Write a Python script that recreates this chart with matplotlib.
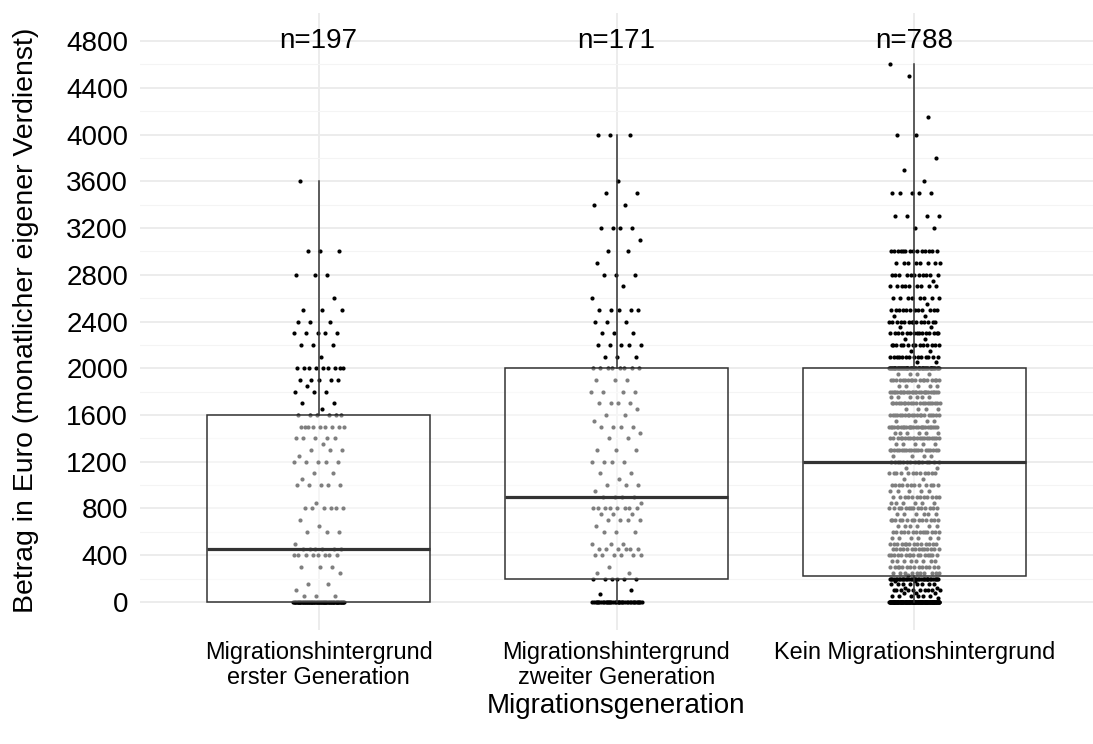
import numpy as np
import matplotlib
matplotlib.use("Agg")
import matplotlib.pyplot as plt

plt.rcParams['font.family'] = ['Liberation Sans', 'DejaVu Sans']

# ---- data (values in Euro, with how many respondents gave each value) ----
categories = ["Migrationshintergrund\nerster Generation",
              "Migrationshintergrund\nzweiter Generation",
              "Kein Migrationshintergrund"]
n_labels = ["n=197", "n=171", "n=788"]

g1_values = [0, 50, 100, 150, 250, 300, 400, 450, 500, 600, 650, 700, 800, 850,
             1000, 1050, 1100, 1200, 1250, 1300, 1350, 1400, 1500, 1600, 1650,
             1700, 1800, 1850, 1900, 2000, 2100, 2200, 2300, 2400, 2500, 2600,
             2800, 3000, 3600]
g1_counts = [78, 3, 1, 2, 1, 3, 8, 6, 1, 3, 1, 1, 6, 1,
             5, 1, 2, 5, 1, 3, 1, 5, 9, 6, 1,
             2, 3, 1, 5, 9, 1, 3, 5, 3, 3, 1,
             3, 3, 1]

g2_values = [0, 70, 100, 200, 250, 300, 400, 450, 500, 600, 650, 700, 750, 800,
             850, 900, 950, 1000, 1050, 1100, 1200, 1300, 1400, 1450, 1500, 1550,
             1600, 1650, 1700, 1800, 1900, 2000, 2100, 2200, 2300, 2400, 2500,
             2600, 2700, 2800, 2900, 3000, 3100, 3200, 3400, 3500, 3600, 4000]
g2_counts = [37, 1, 1, 6, 2, 1, 6, 6, 3, 3, 1, 4, 3, 8,
             1, 4, 1, 3, 1, 2, 4, 3, 2, 1, 4, 1,
             2, 1, 4, 4, 3, 8, 3, 5, 3, 3, 5,
             1, 1, 3, 1, 2, 1, 4, 2, 2, 1, 3]

g3_values = [0, 30, 50, 80, 100, 120, 150, 180, 200, 230, 250, 300, 350, 400,
             450, 500, 550, 600, 650, 700, 750, 800, 850, 900, 950, 1000, 1050,
             1100, 1150, 1200, 1250, 1300, 1350, 1400, 1450, 1500, 1550, 1600,
             1650, 1700, 1750, 1800, 1850, 1900, 1950, 2000, 2050, 2100, 2150,
             2200, 2250, 2300, 2350, 2400, 2450, 2500, 2550, 2600, 2700, 2750,
             2800, 2900, 3000, 3200, 3300, 3500, 3600, 3700, 3800, 4000, 4150,
             4500, 4600]
g3_counts = [130, 1, 6, 3, 10, 2, 8, 2, 35, 1, 10, 14, 8, 16,
             14, 14, 6, 14, 6, 14, 6, 14, 6, 12, 5, 12, 2,
             12, 2, 15, 4, 20, 5, 20, 6, 26, 4, 20,
             4, 20, 6, 26, 5, 18, 4, 50, 2, 14, 2,
             14, 2, 15, 2, 14, 2, 12, 1, 8, 9, 1,
             11, 8, 14, 2, 4, 5, 1, 1, 1, 2, 1,
             1, 1]

group_values = [g1_values, g2_values, g3_values]
group_counts = [g1_counts, g2_counts, g3_counts]

yticks = list(range(0, 4801, 400))

# ---- figure ----
W, H = 1093, 744
fig = plt.figure(figsize=(W / 100, H / 100), dpi=100)
ax = fig.add_axes([140 / W, 114 / H, 953 / W, 617 / H])
ax.set_xlim(0.4, 3.6)
ax.set_ylim(-240, 5040)

for s in ax.spines.values():
    s.set_visible(False)

ax.set_yticks(yticks)
ax.set_yticks(list(range(200, 4801, 400)), minor=True)
ax.set_xticks([1, 2, 3])
ax.set_xticklabels(categories, fontsize=16.9, linespacing=1.12, va='top')
ax.set_yticklabels([str(t) for t in yticks], fontsize=20)
ax.tick_params(axis='both', which='both', length=0)
ax.tick_params(axis='y', pad=8.5)
ax.tick_params(axis='x', pad=8)
ax.grid(True, which='major', color='#EBEBEB', linewidth=1.3, zorder=0)
ax.grid(True, which='minor', axis='y', color='#F4F4F4', linewidth=0.8, zorder=0)
ax.set_axisbelow(True)

data = []
golden = 0.6180339887498949
for i, (vals, cnts) in enumerate(zip(group_values, group_counts)):
    v = np.repeat(np.array(vals, dtype=float), cnts)
    data.append(v)
    k = np.arange(len(v))
    offs = ((k * golden + 0.31 * i) % 1.0) * 2 - 1
    ax.scatter(i + 1 + 0.085 * offs, v, s=9, color='black', linewidths=0, zorder=2)

bp = ax.boxplot(data, positions=[1, 2, 3], widths=0.75, whis=1.5,
                showfliers=False, patch_artist=True, manage_ticks=False,
                zorder=3,
                boxprops=dict(facecolor=(1, 1, 1, 0.5), edgecolor='#333333', linewidth=1.1),
                whiskerprops=dict(color='#333333', linewidth=1.1),
                capprops=dict(linewidth=0),
                medianprops=dict(color='#333333', linewidth=2.3))

for i, lab in enumerate(n_labels):
    ax.text(i + 1, 4800, lab, ha='center', va='center', fontsize=20, zorder=4)

fig.text(26 / W, 1 - 320 / H, "Betrag in Euro (monatlicher eigener Verdienst)",
         rotation=90, ha='center', va='center', fontsize=20.5)
fig.text(616 / W, 1 - 706 / H, "Migrationsgeneration", ha='center', va='center', fontsize=20)

fig.savefig("out.png", dpi=100)
